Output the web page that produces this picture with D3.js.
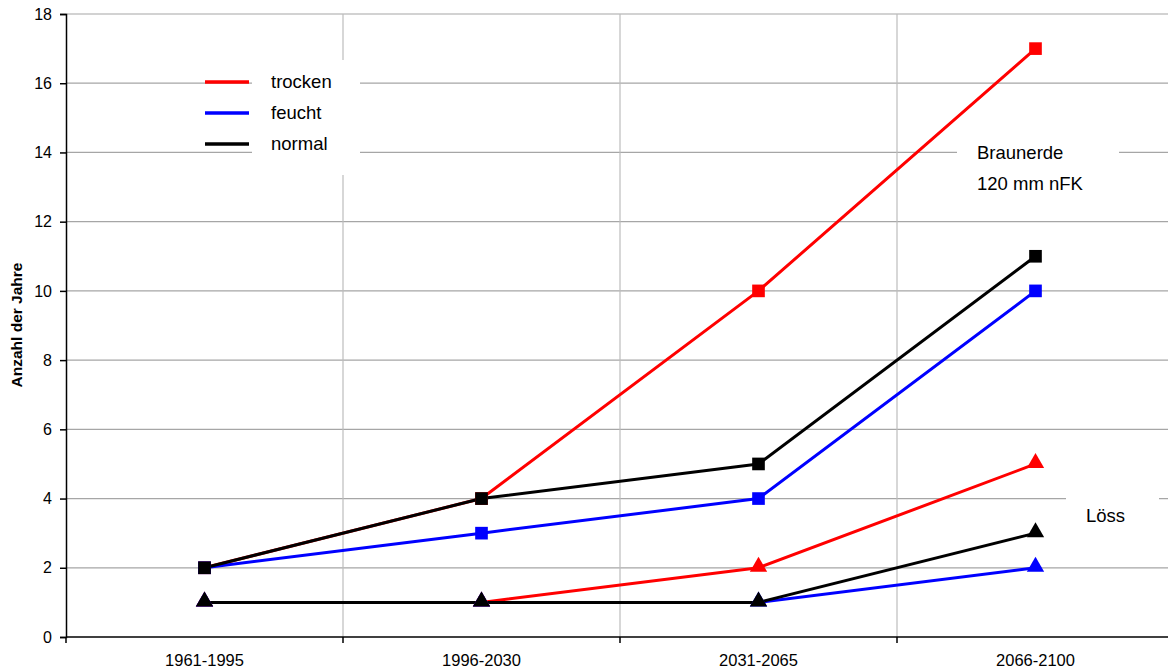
<!DOCTYPE html>
<html><head><meta charset="utf-8">
<script src="https://cdn.jsdelivr.net/npm/d3@7"></script>
<style>body{margin:0;background:#fff}svg{display:block;font-family:"Liberation Sans",Arial,sans-serif}</style>
</head><body>
<svg id="c" width="1168" height="670"></svg>
<script>
const categories = ["1961-1995","1996-2030","2031-2065","2066-2100"];
const braunTrocken = [2,4,10,17];
const braunFeucht = [2,3,4,10];
const braunNormal = [2,4,5,11];
const loessTrocken = [1,1,2,5];
const loessFeucht = [1,1,1,2];
const loessNormal = [1,1,1,3];
const yTicks = [0,2,4,6,8,10,12,14,16,18];
const legendLabels = ["trocken","feucht","normal"];
const colors = {trocken:"#ff0000", feucht:"#0000ff", normal:"#000000"};

const svg = d3.select("#c");
const x = d3.scaleBand().domain(categories).range([66,1174]);
const y = d3.scaleLinear().domain([0,18]).range([637,14]);
const cx = c => x(c) + x.bandwidth()/2;

// grid
svg.append("g").selectAll("line").data(yTicks.slice(1)).join("line")
  .attr("x1",66).attr("x2",1168).attr("y1",d=>y(d)).attr("y2",d=>y(d))
  .attr("stroke","#a6a6a6").attr("stroke-width",1.2);
svg.append("g").selectAll("line").data(categories.slice(1)).join("line")
  .attr("x1",d=>x(d)).attr("x2",d=>x(d)).attr("y1",y(18)).attr("y2",y(0))
  .attr("stroke","#bdbdbd").attr("stroke-width",1.2);

// white label boxes over grid
svg.append("rect").attr("x",252).attr("y",60).attr("width",108).attr("height",115).attr("fill","#fff");
svg.append("rect").attr("x",957).attr("y",140).attr("width",162).attr("height",60).attr("fill","#fff");
svg.append("rect").attr("x",1066).attr("y",495).attr("width",93).attr("height",40).attr("fill","#fff");

// axes
const yAxis = svg.append("g").attr("transform","translate(66,0)")
  .call(d3.axisLeft(y).tickValues(yTicks).tickSize(6).tickPadding(8));
const xAxis = svg.append("g").attr("transform",`translate(0,${y(0)})`)
  .call(d3.axisBottom(x).tickSize(0).tickPadding(17));
[yAxis,xAxis].forEach(a=>{
  a.select(".domain").attr("stroke","#000").attr("stroke-width",1.5);
  a.selectAll("text").attr("font-size",16).attr("fill","#000").attr("font-family","Liberation Sans, Arial, sans-serif");
});
yAxis.selectAll(".tick line").attr("stroke","#000").attr("stroke-width",1.5);
xAxis.select(".domain").attr("d","M66,0H1168");
xAxis.selectAll(".tick text").attr("font-size",16.5);
// x boundary ticks
svg.append("g").selectAll("line").data([66].concat(categories.slice(1).map(c=>x(c)))).join("line")
  .attr("x1",d=>d).attr("x2",d=>d).attr("y1",y(0)).attr("y2",y(0)+6)
  .attr("stroke","#000").attr("stroke-width",1.5);

// axis title
svg.append("text").attr("transform","translate(22,325) rotate(-90)")
  .attr("text-anchor","middle").attr("font-size",15.5).attr("font-weight","bold").text("Anzahl der Jahre");

const series = [
  {data:braunTrocken,key:"trocken",shape:"sq"},
  {data:braunFeucht,key:"feucht",shape:"sq"},
  {data:braunNormal,key:"normal",shape:"sq"},
  {data:loessTrocken,key:"trocken",shape:"tri"},
  {data:loessFeucht,key:"feucht",shape:"tri"},
  {data:loessNormal,key:"normal",shape:"tri"}
];
const line = d3.line().x((d,i)=>cx(categories[i])).y(d=>y(d));
const order = ["trocken","feucht","normal"];
const sorted = series.slice().sort((a,b)=>order.indexOf(a.key)-order.indexOf(b.key));
sorted.forEach(s=>{
  svg.append("path").attr("d",line(s.data)).attr("fill","none")
    .attr("stroke",colors[s.key]).attr("stroke-width",3).attr("stroke-linejoin","round");
});
const sym = {sq:d3.symbol().type(d3.symbolSquare).size(160), tri:d3.symbol().type(d3.symbolTriangle).size(130)};
sorted.forEach(s=>{
  svg.append("g").selectAll("path").data(s.data).join("path")
    .attr("d",sym[s.shape])
    .attr("transform",(d,i)=>`translate(${cx(categories[i])},${y(d) + (s.shape==="tri"?-1:0)})`)
    .attr("fill",colors[s.key]);
});

// legend
legendLabels.forEach((l,i)=>{
  const yy = 82 + i*31;
  svg.append("line").attr("x1",205).attr("x2",249).attr("y1",yy).attr("y2",yy)
    .attr("stroke",colors[l]).attr("stroke-width",3.5);
  svg.append("text").attr("x",271).attr("y",yy+6).attr("font-size",18.5).text(l);
});

// annotations
svg.append("text").attr("x",977).attr("y",159).attr("font-size",18.5).text("Braunerde");
svg.append("text").attr("x",977).attr("y",190).attr("font-size",18.5).text("120 mm nFK");
svg.append("text").attr("x",1086).attr("y",522).attr("font-size",18.5).text("Löss");
</script>
</body></html>
